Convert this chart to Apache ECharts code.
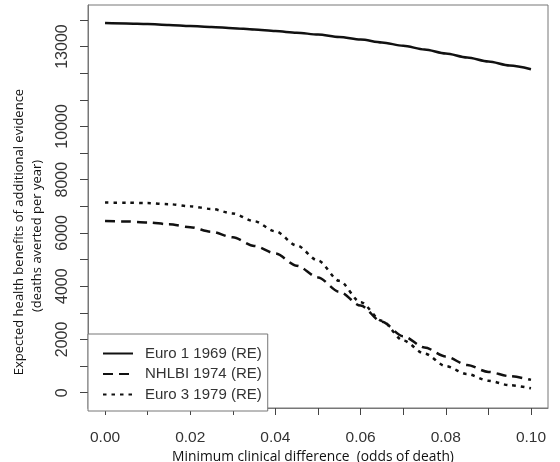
<!DOCTYPE html>
<html>
<head>
<meta charset="utf-8">
<title>Expected health benefits</title>
<script src="https://cdn.jsdelivr.net/npm/echarts@6/dist/echarts.min.js"></script>
<style>
  html, body { margin: 0; padding: 0; background: #fff; }
  #chart { width: 560px; height: 462px; }
</style>
</head>
<body>
<div id="chart"></div>
<script>
// minimum clinical difference (odds of death)
var diffs = [0, 0.005, 0.01, 0.015, 0.02, 0.025, 0.03, 0.035, 0.04, 0.045, 0.05,
             0.055, 0.06, 0.065, 0.07, 0.075, 0.08, 0.085, 0.09, 0.095, 0.1];

// deaths averted per year
var euro1 = [13880, 13865, 13845, 13810, 13770, 13735, 13690, 13640, 13580, 13520, 13450,
             13360, 13260, 13150, 13030, 12890, 12740, 12590, 12440, 12290, 12150];
var nhlbi = [6445, 6430, 6395, 6325, 6215, 6040, 5835, 5510, 5230, 4770, 4330,
             3790, 3270, 2660, 2120, 1700, 1360, 1040, 780, 620, 480];
var euro3 = [7140, 7135, 7120, 7080, 7000, 6900, 6730, 6440, 6060, 5530, 4960,
             4200, 3400, 2700, 1960, 1470, 1000, 700, 450, 280, 165];

var seriesNames = ['Euro 1 1969 (RE)', 'NHLBI 1974 (RE)', 'Euro 3 1979 (RE)'];

var xTicks = [0, 0.01, 0.02, 0.03, 0.04, 0.05, 0.06, 0.07, 0.08, 0.09, 0.1];
var xLabels = [0, 0.02, 0.04, 0.06, 0.08, 0.1];
var yTicks = [0, 1000, 2000, 3000, 4000, 5000, 6000, 7000, 8000, 9000, 10000, 11000, 12000, 13000, 14000];
var yLabels = [0, 2000, 4000, 6000, 8000, 10000, 13000];

function pairs(ys) {
    var out = [];
    for (var i = 0; i < diffs.length; i++) out.push([diffs[i], ys[i]]);
    return out;
}

var chart = echarts.init(document.getElementById('chart'));
var axisFont = 'Liberation Sans, Arial, sans-serif';
var titleFont = 'Open Sans, sans-serif';

function mkLine(name, ys, type) {
    return {
        name: name,
        type: 'line',
        data: pairs(ys),
        symbol: 'none',
        smooth: 0.3,
        smoothMonotone: 'x',
        lineStyle: { color: '#111', width: 2.5, type: type },
        itemStyle: { color: '#111' }
    };
}

var option = {
    animation: false,
    backgroundColor: '#fff',
    grid: {
        left: 88, right: 12, top: 5, bottom: 54,
        show: true, borderColor: '#777', borderWidth: 1
    },
    xAxis: {
        type: 'value',
        min: -0.004, max: 0.104,
        axisLine: { show: true, onZero: false, lineStyle: { color: '#777' } },
        splitLine: { show: false },
        axisTick: { show: true, inside: false, length: 7, customValues: xTicks, lineStyle: { color: '#444' } },
        axisLabel: {
            customValues: xLabels,
            margin: 22,
            fontFamily: axisFont, fontSize: 15.5, color: '#333',
            formatter: function (v) { return v.toFixed(2); }
        }
    },
    yAxis: {
        type: 'value',
        min: -575, max: 14560,
        axisLine: { show: true, onZero: false, lineStyle: { color: '#777' } },
        splitLine: { show: false },
        axisTick: { show: true, inside: false, length: 8, customValues: yTicks, lineStyle: { color: '#444' } },
        axisLabel: {
            customValues: yLabels,
            rotate: 90,
            margin: 17,
            fontFamily: axisFont, fontSize: 16, color: '#333',
            formatter: function (v) { return String(v); }
        }
    },
    legend: {
        data: seriesNames,
        orient: 'vertical',
        left: 88, top: 334,
        padding: [12, 6, 9, 14],
        itemWidth: 30, itemHeight: 14, itemGap: 5.5,
        itemStyle: { opacity: 0 },
        borderColor: '#777', borderWidth: 1,
        backgroundColor: '#fff',
        textStyle: { fontFamily: axisFont, fontSize: 15, color: '#333', lineHeight: 14, padding: [0, 0, 0, 7] }
    },
    graphic: [
        {
            type: 'text', x: 313, y: 457,
            style: { text: 'Minimum clinical difference  (odds of death)', fontFamily: titleFont, fontSize: 13.8,
                     fill: '#111', align: 'center', verticalAlign: 'middle' }
        },
        {
            type: 'text', x: 19, y: 232, rotation: Math.PI / 2,
            style: { text: 'Expected health benefits of additional evidence', fontFamily: titleFont, fontSize: 13,
                     fill: '#111', align: 'center', verticalAlign: 'middle' }
        },
        {
            type: 'text', x: 37, y: 236, rotation: Math.PI / 2,
            style: { text: '(deaths averted per year)', fontFamily: titleFont, fontSize: 13,
                     fill: '#111', align: 'center', verticalAlign: 'middle' }
        }
    ],
    series: [
        mkLine(seriesNames[0], euro1, 'solid'),
        mkLine(seriesNames[1], nhlbi, [10, 6]),
        mkLine(seriesNames[2], euro3, [3.5, 5])
    ]
};

chart.setOption(option);
</script>
</body>
</html>
